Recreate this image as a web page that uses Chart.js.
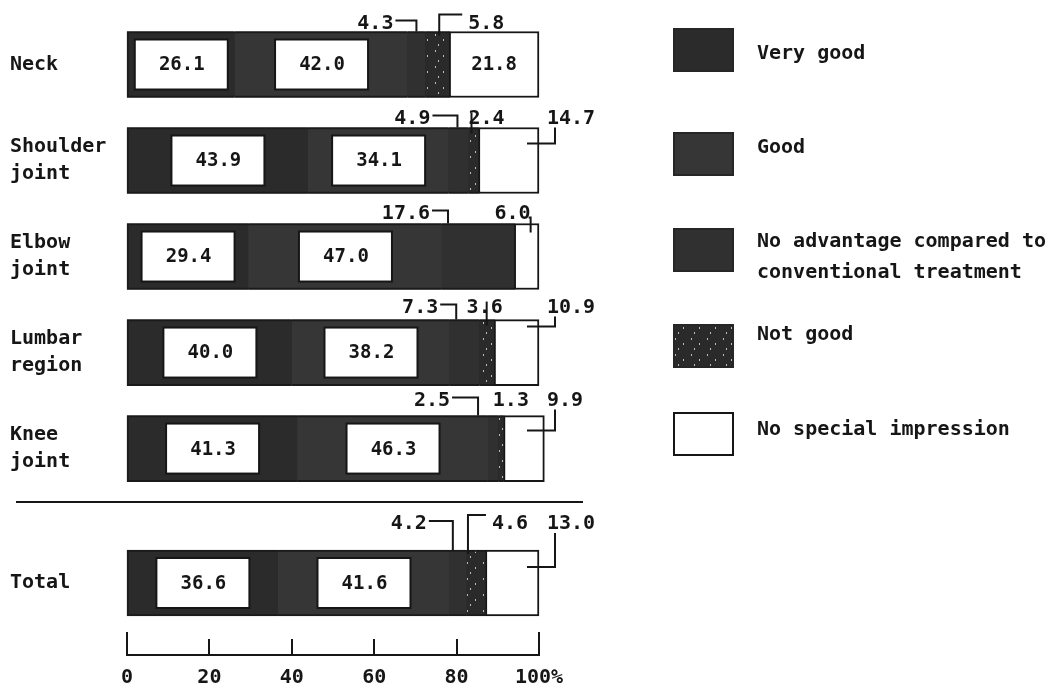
<!DOCTYPE html>
<html>
<head>
  <title>Evaluation by region</title>
  <script src="https://cdn.jsdelivr.net/npm/chart.js"></script>
  <style>
    body { margin: 0; background: #fff; }
    canvas { display: block; }
  </style>
</head>
<body>
  <canvas id="evaluation" width="1057" height="690"></canvas>

  <script>
    const regions = [['Neck'], ['Shoulder', 'joint'], ['Elbow', 'joint'], ['Lumbar', 'region'], ['Knee', 'joint'], ['Total']];
    const seriesNames = ['Very good', 'Good', 'No advantage compared to\nconventional treatment', 'Not good', 'No special impression'];

    const veryGood = [26.1, 43.9, 29.4, 40.0, 41.3, 36.6];
    const good = [42.0, 34.1, 47.0, 38.2, 46.3, 41.6];
    const noAdvantage = [4.3, 4.9, 17.6, 7.3, 2.5, 4.2];
    const notGood = [5.8, 2.4, 0, 3.6, 1.3, 4.6];
    const noImpression = [21.8, 14.7, 6.0, 10.9, 9.9, 13.0];

    const xTicks = [0, 20, 40, 60, 80, 100];

    // layout: row centres on the y scale (Total sits lower, under the rule)
    const rowPos = [0, 1, 2, 3, 4, 5.4];
    const rulePos = 4.56;

    // small values are written above the bar with a leader line
    const callouts = [
      { row: 0, series: 2, style: 'left', dx: 0, gap: 23 },
      { row: 0, series: 3, style: 'hook', dx: 2, gap: 29 },
      { row: 1, series: 2, style: 'left', dx: -1, gap: 27 },
      { row: 1, series: 3, style: 'through', dx: -2, shift: 15 },
      { row: 1, series: 4, style: 'elbow', drop: 16 },
      { row: 2, series: 2, style: 'left', dx: -30, gap: 18 },
      { row: 2, series: 4, style: 'down', dx: 2 },
      { row: 3, series: 2, style: 'left', dx: -8, gap: 18 },
      { row: 3, series: 3, style: 'through', dx: 0, shift: -2 },
      { row: 3, series: 4, style: 'elbow', drop: 7 },
      { row: 4, series: 2, style: 'left', dx: -15, gap: 28 },
      { row: 4, series: 3, style: 'none', dx: 10 },
      { row: 4, series: 4, style: 'elbow', drop: 15 },
      { row: 5, series: 2, style: 'left', dx: -5, gap: 26 },
      { row: 5, series: 3, style: 'hook', dx: -8, gap: 24 },
      { row: 5, series: 4, style: 'elbow', drop: 17 }
    ];
    const calloutRise = [8, 9, 10, 12, 15, 26];

    const legendTop = [29, 133, 229, 325, 413];
    const legendTextY = [54, 148, 242, 335, 430];

    const mono = '"DejaVu Sans Mono", monospace';
    const ink = '#161616';

    Chart.defaults.font.family = mono;
    Chart.defaults.font.size = 20;
    Chart.defaults.font.weight = 'bold';
    Chart.defaults.color = ink;

    // dark fill with a few white specks for "Not good"
    function speckle() {
      const c = document.createElement('canvas');
      c.width = 16; c.height = 16;
      const g = c.getContext('2d');
      g.fillStyle = '#2a2a2a';
      g.fillRect(0, 0, 16, 16);
      g.fillStyle = '#bdbdbd';
      [[3, 2], [11, 7], [6, 12]].forEach(p => g.fillRect(p[0], p[1], 1, 2));
      return g.createPattern(c, 'repeat');
    }

    const values = [veryGood, good, noAdvantage, notGood, noImpression];
    const fills = ['#2b2b2b', '#363636', '#303030', speckle(), '#ffffff'];

    const datasets = values.map((vals, s) => ({
      label: seriesNames[s],
      data: vals.map((v, i) => ({ x: v, y: rowPos[i] })),
      backgroundColor: fills[s],
      borderColor: s === 4 ? ink : '#1a1a1a',
      borderWidth: s === 4 ? 2 : { top: 2, bottom: 2, left: s === 0 ? 2 : 0, right: 0 },
      borderSkipped: false,
      barThickness: 66,
      clip: false
    }));

    function line(ctx, pts) {
      ctx.beginPath();
      ctx.moveTo(pts[0][0], pts[0][1]);
      for (let k = 1; k < pts.length; k++) ctx.lineTo(pts[k][0], pts[k][1]);
      ctx.stroke();
    }

    function label(ctx, str, x, y, align, size) {
      ctx.font = 'bold ' + (size || 20) + 'px ' + mono;
      ctx.textAlign = align;
      ctx.textBaseline = 'middle';
      ctx.fillStyle = ink;
      ctx.fillText(str, x, y);
    }

    // dark backing under each bar so the segment joins show no seams
    const backing = {
      id: 'backing',
      beforeDatasetsDraw(chart) {
        const ctx = chart.ctx;
        const x0 = chart.scales.x.getPixelForValue(0);
        ctx.save();
        ctx.fillStyle = '#2b2b2b';
        chart.getDatasetMeta(4).data.forEach(bar => {
          const p = bar.getProps(['y', 'base', 'height'], true);
          ctx.fillRect(x0, p.y - p.height / 2, p.base - x0 + 1, p.height);
        });
        ctx.restore();
      }
    };

    const valueLabels = {
      id: 'valueLabels',
      afterDatasetsDraw(chart) {
        const ctx = chart.ctx;
        const xScale = chart.scales.x;
        ctx.save();
        ctx.strokeStyle = ink;
        ctx.lineWidth = 2;

        // values inside the wide segments
        values.forEach((vals, s) => {
          chart.getDatasetMeta(s).data.forEach((bar, i) => {
            const p = bar.getProps(['x', 'y', 'base'], true);
            const mid = (p.x + p.base) / 2;
            const txt = vals[i].toFixed(1);
            if (s < 2) {
              ctx.fillStyle = '#fff';
              ctx.fillRect(mid - 46, p.y - 25, 93, 50);
              ctx.strokeRect(mid - 46, p.y - 25, 93, 50);
              label(ctx, txt, mid + 1, p.y + 1, 'center', 19);
            } else if (s === 4 && vals[i] >= 20) {
              label(ctx, txt, mid, p.y + 1, 'center', 19);
            }
          });
        });

        // callouts for the narrow segments
        const right = xScale.getPixelForValue(100);
        callouts.forEach(c => {
          const bar = chart.getDatasetMeta(c.series).data[c.row];
          const p = bar.getProps(['x', 'y', 'base', 'height'], true);
          const top = p.y - p.height / 2;
          const tx = (p.x + p.base) / 2 + (c.dx || 0);
          const ty = top - calloutRise[c.row];
          const ly = ty - 3;
          const txt = values[c.series][c.row].toFixed(1);

          if (c.style === 'left') {
            label(ctx, txt, tx - c.gap, ty, 'right');
            line(ctx, [[tx - c.gap + 2, ly], [tx, ly], [tx, top]]);
          } else if (c.style === 'hook') {
            label(ctx, txt, tx + c.gap, ty, 'left');
            line(ctx, [[tx, top + 4], [tx, ly - 6], [tx + c.gap - 6, ly - 6]]);
          } else if (c.style === 'through') {
            label(ctx, txt, tx + c.shift, ty, 'center');
            line(ctx, [[tx, ty - 6], [tx, top + 6]]);
          } else if (c.style === 'elbow') {
            label(ctx, txt, right + 8, ty, 'left');
            line(ctx, [[right + 16, ty + 9], [right + 16, top + c.drop], [right - 12, top + c.drop]]);
          } else if (c.style === 'down') {
            label(ctx, txt, tx + 2, ty, 'right');
            line(ctx, [[tx, ty + 4], [tx + 2, ty + 4], [tx + 2, top + 9]]);
          } else {
            label(ctx, txt, tx, ty, 'center');
          }
        });
        ctx.restore();
      }
    };

    const frame = {
      id: 'frame',
      afterDraw(chart) {
        const ctx = chart.ctx;
        const xScale = chart.scales.x;
        const yScale = chart.scales.y;
        const axisY = chart.chartArea.bottom;
        ctx.save();
        ctx.strokeStyle = ink;
        ctx.lineWidth = 2;

        // tick marks stand up from the axis
        xTicks.forEach(v => {
          const x = Math.round(xScale.getPixelForValue(v));
          const h = (v === 0 || v === 100) ? 23 : 16;
          line(ctx, [[x, axisY], [x, axisY - h]]);
        });

        // rule between the joints and the total
        const ry = Math.round(yScale.getPixelForValue(rulePos));
        line(ctx, [[16, ry], [583, ry]]);

        // legend
        chart.data.datasets.forEach((ds, s) => {
          const bx = 674, by = legendTop[s];
          ctx.fillStyle = ds.backgroundColor;
          ctx.fillRect(bx, by, 59, 42);
          ctx.strokeStyle = s === 4 ? ink : '#262626';
          ctx.strokeRect(bx, by, 59, 42);
          ds.label.split('\n').forEach((t, k) => {
            label(ctx, t, 757, legendTextY[s] + k * 31, 'left');
          });
        });
        ctx.restore();
      }
    };

    new Chart(document.getElementById('evaluation').getContext('2d'), {
      type: 'bar',
      data: { datasets: datasets },
      options: {
        indexAxis: 'y',
        responsive: false,
        animation: false,
        layout: { padding: { top: 15, left: 10, right: 518, bottom: 0 } },
        plugins: {
          legend: { display: false },
          tooltip: { enabled: false }
        },
        scales: {
          x: {
            type: 'linear',
            stacked: true,
            min: 0,
            max: 100,
            afterBuildTicks: scale => { scale.ticks = xTicks.map(v => ({ value: v })); },
            ticks: {
              callback: v => v === 100 ? '100%' : v,
              padding: 11,
              maxRotation: 0
            },
            grid: { display: false, drawTicks: false },
            border: { display: true, color: ink, width: 2 },
            afterFit: scale => { scale.height = 35; }
          },
          y: {
            type: 'linear',
            stacked: true,
            reverse: true,
            offset: false,
            min: -0.5,
            max: 6.15,
            afterBuildTicks: scale => { scale.ticks = rowPos.map(v => ({ value: v })); },
            ticks: {
              crossAlign: 'far',
              autoSkip: false,
              callback: (v, i) => regions[i],
              font: { lineHeight: 1.35 }
            },
            grid: { display: false, offset: false },
            border: { display: false },
            afterFit: scale => { scale.width = 117; }
          }
        }
      },
      plugins: [backing, valueLabels, frame]
    });
  </script>
</body>
</html>
